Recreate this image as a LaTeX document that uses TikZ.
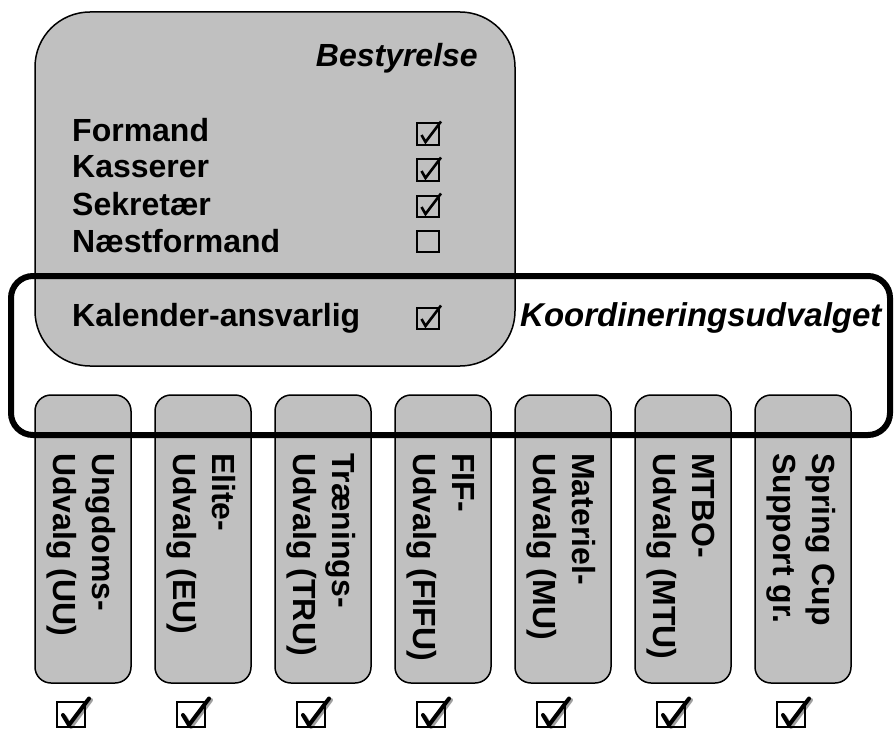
\documentclass[tikz,border=0pt]{standalone}
\usepackage{fontspec}
\setmainfont{Liberation Sans}
\definecolor{boxgray}{HTML}{C0C0C0}
\definecolor{shadowgray}{HTML}{A0A0A0}
\begin{document}
\begin{tikzpicture}[x=1pt,y=-1pt,
  graybox/.style={draw, line width=1.5pt, fill=boxgray, rectangle, inner sep=0pt},
  lbl/.style={font=\fontsize{32}{38}\selectfont\bfseries, inner sep=0pt},
  ilbl/.style={font=\fontsize{32}{38}\selectfont\bfseries\itshape, inner sep=0pt},
  vlbl/.style={lbl, rotate=-90, anchor=base west},
  koord/.style={draw, line width=6pt, rectangle, rounded corners=22pt, inner sep=0pt},
  smallcheck/.pic={
    \draw[line width=2pt] (-11,-10.5) rectangle (11,11);
    \draw[line width=2.6pt, line join=miter] (-6.5,1) -- (-2.5,8) -- (13,-12.5);
  },
  smallempty/.pic={
    \draw[line width=2pt] (-11,-10.5) rectangle (11,11);
  },
  bigcheck/.pic={
    \draw[shadowgray, line width=4pt, line join=round, line cap=round] (-6,2.5) -- (0,12.5) -- (20,-14.5);
    \draw[line width=2.7pt] (-14,-12.5) rectangle (14,12.5);
    \draw[line width=4pt, line join=round, line cap=round] (-8,0.5) -- (-2,10.5) -- (18,-16);
  }
]
\useasboundingbox (0,0) rectangle (896,730);

% Bestyrelse box
\node[graybox, rounded corners=55pt, minimum width=480pt, minimum height=354pt] (best) at (275,189) {};

% sub-committee boxes
\foreach \i in {0,...,6} {
  \node[graybox, rounded corners=16pt, minimum width=96pt, minimum height=288pt] (u\i) at (83+120*\i,539) {};
}

% Bestyrelse texts
\node[ilbl, anchor=base east] (bt) at (478,67) {Bestyrelse};
\node[lbl, anchor=base west] (formand) at (72,142) {Formand};
\node[lbl, anchor=base west] (kasserer) at (72,178) {Kasserer};
\node[lbl, anchor=base west] (sekretaer) at (72,215) {Sekretær};
\node[lbl, anchor=base west] (naestformand) at (72,252) {Næstformand};
\node[lbl, anchor=base west] (kalender) at (72,326) {Kalender-ansvarlig};

\pic at (428,134) {smallcheck};
\pic at (428,170) {smallcheck};
\pic at (428,206) {smallcheck};
\pic at (428,241) {smallempty};
\pic at (428,318) {smallcheck};

\node[font=\fontsize{33}{38}\selectfont\bfseries\itshape, inner sep=0pt, anchor=base west] (kt) at (520,326) {Koordineringsudvalget};

% rotated labels
\node[vlbl] (u0a) at (92,453) {Ungdoms-};
\node[vlbl] (u0b) at (53,453) {Udvalg (UU)};
\node[vlbl] (u1a) at (212,453) {Elite-};
\node[vlbl] (u1b) at (173,453) {Udvalg (EU)};
\node[vlbl] (u2a) at (332,453) {Trænings-};
\node[vlbl] (u2b) at (293,453) {Udvalg (TRU)};
\node[vlbl] (u3a) at (452,453) {FIF-};
\node[vlbl] (u3b) at (413,453) {Udvalg (FIFU)};
\node[vlbl] (u4a) at (572,453) {Materiel-};
\node[vlbl] (u4b) at (533,453) {Udvalg (MU)};
\node[vlbl] (u5a) at (692,453) {MTBO-};
\node[vlbl] (u5b) at (653,453) {Udvalg (MTU)};
\node[vlbl] (u6a) at (812,453) {Spring Cup};
\node[vlbl] (u6b) at (773,453) {Support gr.};

% bottom checks
\foreach \i in {0,...,6} {
  \pic at (71+120*\i,714.5) {bigcheck};
}

% Koordineringsudvalget frame
\node[koord, minimum width=879pt, minimum height=159pt] (koordframe) at (450.5,355.5) {};
\end{tikzpicture}
\end{document}
